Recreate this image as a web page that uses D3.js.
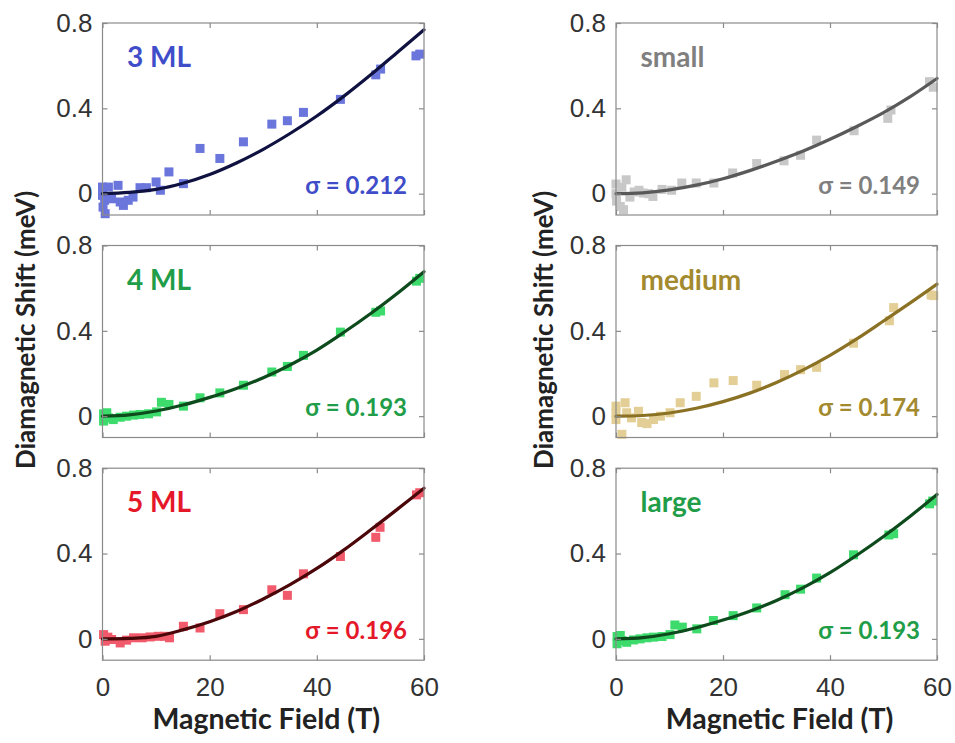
<!DOCTYPE html>
<html>
<head>
<meta charset="utf-8">
<script src="https://cdn.jsdelivr.net/npm/d3@7"></script>
<style>
  body { margin: 0; background: #ffffff; }
  svg { display: block; font-family: Lato, "Open Sans", "DejaVu Sans", sans-serif; }
</style>
</head>
<body>
<svg id="chart" width="955" height="743"></svg>
<script>
// ---- measured diamagnetic shifts (meV) vs. magnetic field (T) ----
const field3ML = [0.0,0.0,0.1,0.4,0.5,1.1,1.7,2.9,3.3,3.9,4.8,5.7,7.0,8.2,10.0,10.8,12.4,15.1,18.2,21.9,26.3,31.6,34.5,37.5,44.4,51.0,51.9,58.5,59.2];
const shift3ML = [0.031,-0.008,-0.063,-0.031,-0.094,0.031,-0.024,0.039,-0.039,-0.055,-0.031,-0.016,0.028,0.028,0.055,0.016,0.102,0.047,0.212,0.165,0.243,0.326,0.342,0.381,0.442,0.557,0.584,0.646,0.654];

const field4ML = [0.2,0.2,0.8,1.1,2.0,3.3,4.5,5.8,7.0,8.6,10.1,11.0,12.4,15.1,18.2,21.9,26.3,31.6,34.5,37.5,44.4,51.0,51.9,58.6,59.2];
const shift4ML = [0.011,-0.023,0.016,-0.008,-0.016,-0.005,0.0,0.005,0.008,0.011,0.02,0.065,0.055,0.047,0.086,0.109,0.145,0.207,0.233,0.285,0.394,0.487,0.493,0.633,0.646];

const field5ML = [0.2,0.5,1.0,1.7,3.3,4.5,5.8,7.4,8.9,10.4,11.6,12.5,15.1,18.2,21.9,26.3,31.6,34.5,37.5,44.4,51.0,51.8,58.6,59.2];
const shift5ML = [0.02,-0.011,0.008,-0.003,-0.019,-0.006,0.005,0.005,0.009,0.012,0.012,0.005,0.059,0.051,0.118,0.137,0.23,0.204,0.305,0.386,0.476,0.523,0.675,0.685];

const fieldSmall = [0.0,0.0,0.1,0.8,1.1,1.4,1.9,2.6,3.4,4.3,5.1,6.1,6.9,8.6,10.4,12.3,15.0,18.3,21.8,26.3,31.4,34.5,37.5,44.5,50.8,51.4,58.6,59.3];
const shiftSmall = [0.045,0.0,-0.035,-0.06,0.03,-0.075,0.065,-0.016,0.008,0.016,0.003,0.0,-0.013,0.02,0.016,0.05,0.05,0.05,0.097,0.141,0.154,0.18,0.251,0.295,0.353,0.392,0.525,0.499];

const fieldMedium = [0.0,0.0,0.0,1.1,1.7,2.0,2.9,4.2,4.8,5.8,7.0,8.3,10.1,12.0,15.0,18.3,21.9,26.3,31.5,34.5,37.5,44.4,51.1,51.9,58.9,59.4];
const shiftMedium = [0.047,0.016,-0.016,-0.085,0.063,0.016,-0.008,0.023,-0.03,-0.035,-0.016,0.0,0.016,0.063,0.093,0.156,0.167,0.145,0.195,0.218,0.229,0.342,0.447,0.509,0.568,0.565];

const fieldLarge = [0.2,0.2,0.8,1.1,2.0,3.3,4.5,5.8,7.0,8.6,10.1,11.0,12.4,15.1,18.2,21.9,26.3,31.6,34.5,37.5,44.4,51.0,51.9,58.6,59.2];
const shiftLarge = [0.011,-0.023,0.016,-0.008,-0.016,-0.005,0.0,0.005,0.008,0.011,0.02,0.065,0.055,0.047,0.086,0.109,0.145,0.207,0.233,0.285,0.394,0.487,0.493,0.633,0.646];

// ---- fitted curves, sampled every 5 T ----
const fitField  = [0,5,10,15,20,25,30,35,40,45,50,55,60];
const fit3ML    = [0,0.006,0.02,0.049,0.09,0.144,0.208,0.282,0.364,0.456,0.556,0.662,0.768];
const fit4ML    = [0,0.006,0.024,0.052,0.088,0.13,0.18,0.24,0.31,0.392,0.48,0.575,0.677];
const fit5ML    = [0,0.002,0.012,0.042,0.08,0.128,0.187,0.254,0.33,0.416,0.51,0.607,0.706];
const fitSmall  = [0,0.004,0.018,0.04,0.07,0.108,0.152,0.2,0.255,0.315,0.38,0.455,0.54];
const fitMedium = [0,0.003,0.015,0.037,0.068,0.108,0.158,0.217,0.285,0.362,0.446,0.531,0.619];
const fitLarge  = [0,0.006,0.024,0.052,0.088,0.13,0.18,0.24,0.31,0.392,0.48,0.575,0.677];

// ---- labels and ticks ----
const panelNames  = ["3 ML", "4 ML", "5 ML", "small", "medium", "large"];
const sigmaLabels = ["σ = 0.212", "σ = 0.193", "σ = 0.196", "σ = 0.149", "σ = 0.174", "σ = 0.193"];
const xTicks = [0, 20, 40, 60];
const yTicks = [0, 0.4, 0.8];
const yTickLabels = ["0", "0.4", "0.8"];
const xTitle = "Magnetic Field (T)";
const yTitle = "Diamagnetic Shift (meV)";

// ---- panel configuration ----
const series = [
  { field: field3ML,    shift: shift3ML,    fit: fit3ML,    col: 0, row: 0, marker: "#6b76dc", line: "#0f1240", text: "#3f4dc9" },
  { field: field4ML,    shift: shift4ML,    fit: fit4ML,    col: 0, row: 1, marker: "#3ddb6c", line: "#0d4a1c", text: "#1f9d48" },
  { field: field5ML,    shift: shift5ML,    fit: fit5ML,    col: 0, row: 2, marker: "#f05a6a", line: "#4a0608", text: "#e5182a" },
  { field: fieldSmall,  shift: shiftSmall,  fit: fitSmall,  col: 1, row: 0, marker: "#c8c8c8", line: "#595959", text: "#7f7f7f" },
  { field: fieldMedium, shift: shiftMedium, fit: fitMedium, col: 1, row: 1, marker: "#e3cf95", line: "#8a7124", text: "#a38a2f" },
  { field: fieldLarge,  shift: shiftLarge,  fit: fitLarge,  col: 1, row: 2, marker: "#3ddb6c", line: "#0d4a1c", text: "#1f9d48" }
];

const colX = [[102.5, 424], [616, 937]];
const rowTop = [23, 245.5, 468.2];
const panelH = 192;
const markerSize = 9;

const svg = d3.select("#chart");

series.forEach((s, i) => {
  const [x0, x1] = colX[s.col];
  const top = rowTop[s.row];
  const bottom = top + panelH;
  const x = d3.scaleLinear().domain([0, 60]).range([x0, x1]);
  const y = d3.scaleLinear().domain([-0.1, 0.8]).range([bottom, top]);

  const g = svg.append("g");

  // data squares
  const pts = s.field.map((f, k) => ({ f, v: s.shift[k] }));
  g.append("g").selectAll("rect").data(pts).join("rect")
    .attr("x", d => x(d.f) - markerSize / 2)
    .attr("y", d => y(d.v) - markerSize / 2)
    .attr("width", markerSize)
    .attr("height", markerSize)
    .attr("fill", s.marker);

  // fitted curve
  const fitPts = fitField.map((f, k) => ({ f, v: s.fit[k] }));
  g.append("path")
    .datum(fitPts)
    .attr("fill", "none")
    .attr("stroke", s.line)
    .attr("stroke-width", 3.2)
    .attr("stroke-linecap", "round")
    .attr("d", d3.line().x(d => x(d.f)).y(d => y(d.v)).curve(d3.curveCatmullRom.alpha(0.5)));

  // frame
  g.append("rect")
    .attr("x", x0).attr("y", top)
    .attr("width", x1 - x0).attr("height", panelH)
    .attr("fill", "none").attr("stroke", "#8a8a8a").attr("stroke-width", 1.2);

  const tickStyle = sel => {
    sel.select(".domain").remove();
    sel.selectAll(".tick line").attr("stroke", "#8a8a8a").attr("stroke-width", 1.2);
    sel.selectAll(".tick text").attr("fill", "#333333").attr("font-size", 26);
  };

  // inward ticks on all four sides
  g.append("g").attr("transform", `translate(${x0},0)`)
    .call(d3.axisLeft(y).tickValues(yTicks).tickSizeInner(-5).tickSizeOuter(0).tickPadding(10)
      .tickFormat((d, k) => yTickLabels[k]))
    .call(tickStyle);
  g.append("g").attr("transform", `translate(${x1},0)`)
    .call(d3.axisRight(y).tickValues(yTicks).tickSizeInner(-5).tickSizeOuter(0).tickFormat(""))
    .call(tickStyle);
  g.append("g").attr("transform", `translate(0,${top})`)
    .call(d3.axisTop(x).tickValues(xTicks).tickSizeInner(-5).tickSizeOuter(0).tickFormat(""))
    .call(tickStyle);
  g.append("g").attr("transform", `translate(0,${bottom})`)
    .call(d3.axisBottom(x).tickValues(xTicks).tickSizeInner(-5).tickSizeOuter(0).tickPadding(17)
      .tickFormat(s.row === 2 ? d3.format("d") : ""))
    .call(tickStyle);

  // panel name
  g.append("text")
    .attr("x", x0 + 24.5).attr("y", top + 44)
    .attr("fill", s.text).attr("font-size", 28).attr("font-weight", 700)
    .text(panelNames[i]);

  // sigma label
  g.append("text")
    .attr("x", x1 - 17).attr("y", y(0))
    .attr("text-anchor", "end")
    .attr("fill", s.text).attr("font-size", 24).attr("font-weight", 700)
    .text(sigmaLabels[i]);
});

// axis titles
[0, 1].forEach(c => {
  const [x0, x1] = colX[c];
  svg.append("text")
    .attr("x", (x0 + x1) / 2 + 3).attr("y", 729)
    .attr("text-anchor", "middle")
    .attr("fill", "#222222").attr("font-size", 28.5).attr("font-weight", 700)
    .text(xTitle);
  const tx = c === 0 ? 35 : 553;
  svg.append("text")
    .attr("transform", `translate(${tx},330) rotate(-90)`)
    .attr("text-anchor", "middle")
    .attr("fill", "#222222").attr("font-size", 26).attr("font-weight", 700)
    .text(yTitle);
});
</script>
</body>
</html>
